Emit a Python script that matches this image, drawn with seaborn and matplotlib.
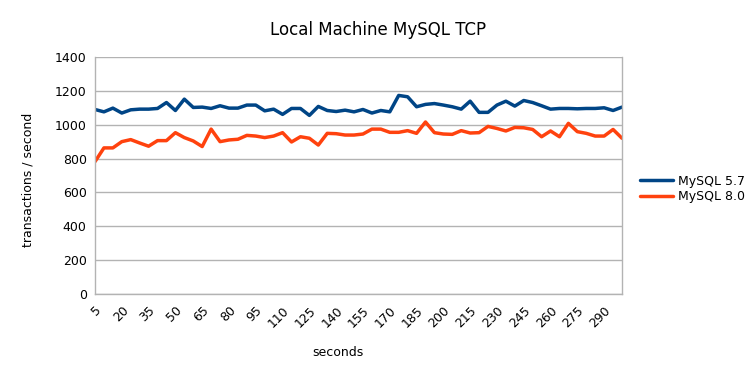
import matplotlib
matplotlib.use("Agg")
import matplotlib.pyplot as plt
import seaborn as sns
import pandas as pd

# seconds, one sample every 5 s
seconds = list(range(5, 301, 5))

mysql57 = [1090, 1076, 1098, 1069, 1088, 1092, 1092, 1096, 1131, 1084,
           1151, 1102, 1104, 1096, 1112, 1098, 1098, 1116, 1116, 1082,
           1092, 1061, 1096, 1096, 1055, 1108, 1084, 1078, 1086, 1076,
           1090, 1069, 1084, 1076, 1173, 1165, 1106, 1120, 1125, 1116,
           1106, 1092, 1139, 1073, 1073, 1116, 1139, 1110, 1143, 1131,
           1112, 1092, 1096, 1096, 1094, 1096, 1096, 1100, 1084, 1104]

mysql80 = [782, 863, 863, 900, 912, 892, 873, 906, 906, 953,
           924, 904, 871, 974, 900, 910, 914, 937, 933, 924,
           933, 953, 898, 929, 920, 880, 949, 947, 939, 939,
           945, 974, 974, 955, 955, 965, 949, 1016, 953, 945,
           943, 965, 951, 953, 990, 978, 963, 984, 982, 972,
           929, 963, 929, 1008, 959, 949, 933, 933, 972, 920]

series_names = ["MySQL 5.7", "MySQL 8.0"]
colors = ["#004586", "#ff420e"]

df = pd.concat([
    pd.DataFrame({"seconds": seconds, "tps": mysql57, "version": series_names[0]}),
    pd.DataFrame({"seconds": seconds, "tps": mysql80, "version": series_names[1]}),
])

sns.set_style("white")
plt.rcParams["font.family"] = ["DejaVu Sans"]
plt.rcParams["text.color"] = "black"
plt.rcParams["xtick.color"] = "black"
plt.rcParams["ytick.color"] = "black"
grid_col = "#b3b3b3"

fig, ax = plt.subplots(figsize=(7.56, 3.78), dpi=100)
fig.subplots_adjust(left=95 / 756, right=622 / 756, top=1 - 57 / 378, bottom=1 - 294 / 378)

sns.lineplot(data=df, x="seconds", y="tps", hue="version", palette=colors,
             linewidth=2.5, ax=ax, legend=False)

ax.set_xlim(5, 300)
ax.set_ylim(0, 1400)
ax.set_yticks(range(0, 1401, 200))
ax.set_xticks(seconds)
ax.set_xticklabels([str(s) if i % 3 == 0 else "" for i, s in enumerate(seconds)],
                   rotation=45, ha="right", rotation_mode="anchor", fontsize=9)
ax.tick_params(axis="y", labelsize=9, length=4, color=grid_col, labelcolor="black", pad=2)
ax.tick_params(axis="x", length=4, color=grid_col, labelcolor="black", pad=3)
ax.yaxis.grid(True, color=grid_col, linewidth=1)
ax.set_axisbelow(True)
for side in ["left", "bottom", "right"]:
    ax.spines[side].set_color(grid_col)
    ax.spines[side].set_linewidth(1)
ax.spines["top"].set_visible(False)
ax.set_xlabel("")
ax.set_ylabel("")

fig.text(0.5, 1 - 30 / 378, "Local Machine MySQL TCP", ha="center", va="center", fontsize=12)
fig.text(28 / 756, 1 - 180 / 378, "transactions / second", rotation=90,
         ha="center", va="center", fontsize=9)
fig.text(338 / 756, 1 - 352 / 378, "seconds", ha="center", va="center", fontsize=9)

handles = [plt.Line2D([], [], color=c, linewidth=2.5) for c in colors]
fig.legend(handles, series_names, loc="center left", bbox_to_anchor=(0.84, 1 - 189 / 378),
           frameon=False, fontsize=9, handlelength=2.6, handletextpad=0.4,
           labelspacing=0.2, borderaxespad=0)

plt.savefig("out.png", dpi=100)
